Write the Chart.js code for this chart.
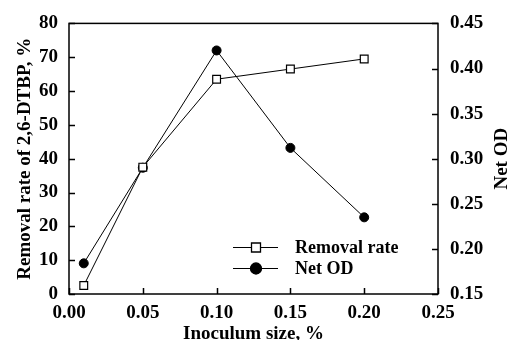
<!DOCTYPE html>
<html>
<head>
<meta charset="utf-8">
<script src="https://cdn.jsdelivr.net/npm/chart.js@4/dist/chart.umd.min.js"></script>
<style>
  html, body { margin: 0; padding: 0; background: #fff; }
  #wrap { width: 512px; height: 340px; }
</style>
</head>
<body>
<div id="wrap"><canvas id="c" width="512" height="340"></canvas></div>
<script>
const inoculum = [0.01, 0.05, 0.10, 0.15, 0.20];
const removalRate = [2.5, 37.5, 63.5, 66.5, 69.5];
const netOD = [0.184, 0.290, 0.420, 0.312, 0.235];
const xTicks = [0, 0.05, 0.10, 0.15, 0.20, 0.25];
const leftTicks = [0, 10, 20, 30, 40, 50, 60, 70, 80];
const rightTicks = [0.15, 0.20, 0.25, 0.30, 0.35, 0.40, 0.45];

const serif = "'Liberation Serif', 'DejaVu Serif', serif";
const tickFont = { family: serif, size: 19, weight: 'bold' };
const titleFont = { family: serif, size: 19, weight: 'bold', lineHeight: 0.6 };

// box, inward ticks, right title, legend with line-marker-line
const framePlugin = {
    id: 'frame',
    afterDraw(chart) {
        const ctx = chart.ctx;
        const a = chart.chartArea;
        const x = chart.scales.x, yl = chart.scales.y, yr = chart.scales.y2;
        ctx.save();
        ctx.strokeStyle = '#000';
        ctx.lineWidth = 1.5;
        ctx.strokeRect(a.left, a.top, a.right - a.left, a.bottom - a.top);
        ctx.beginPath();
        xTicks.forEach(v => {
            const px = Math.round(x.getPixelForValue(v)) + 0.5;
            ctx.moveTo(px, a.bottom); ctx.lineTo(px, a.bottom - 6);
        });
        leftTicks.forEach(v => {
            const py = Math.round(yl.getPixelForValue(v)) + 0.5;
            ctx.moveTo(a.left, py); ctx.lineTo(a.left + 6, py);
        });
        rightTicks.forEach(v => {
            const py = Math.round(yr.getPixelForValue(v)) + 0.5;
            ctx.moveTo(a.right, py); ctx.lineTo(a.right - 6, py);
        });
        ctx.stroke();

        // right axis title, reading bottom to top
        ctx.fillStyle = '#000';
        ctx.font = 'bold 19px ' + serif;
        ctx.textAlign = 'center';
        ctx.textBaseline = 'middle';
        ctx.translate(502, (a.top + a.bottom) / 2);
        ctx.rotate(-Math.PI / 2);
        ctx.fillText('Net OD', 0, 0);
        ctx.restore();

        // legend
        ctx.save();
        const items = [
            { label: 'Removal rate', style: 'rect', y: 247 },
            { label: 'Net OD', style: 'circle', y: 268 }
        ];
        items.forEach(it => {
            ctx.strokeStyle = '#000';
            ctx.lineWidth = 1;
            ctx.beginPath();
            ctx.moveTo(233, it.y + 0.5); ctx.lineTo(278, it.y + 0.5);
            ctx.stroke();
            ctx.lineWidth = 1.3;
            ctx.fillStyle = it.style === 'rect' ? '#fff' : '#000';
            ctx.beginPath();
            if (it.style === 'rect') {
                ctx.rect(251.5, it.y - 4, 9, 9);
            } else {
                ctx.arc(256, it.y + 0.5, 5.5, 0, Math.PI * 2);
            }
            ctx.fill();
            ctx.stroke();
            ctx.fillStyle = '#000';
            ctx.font = 'bold 18px ' + serif;
            ctx.textAlign = 'left';
            ctx.textBaseline = 'middle';
            ctx.fillText(it.label, 295, it.y + 1);
        });
        ctx.restore();
    }
};

new Chart(document.getElementById('c'), {
    type: 'line',
    data: {
        datasets: [
            {
                label: 'Removal rate',
                data: inoculum.map((v, i) => ({ x: v, y: removalRate[i] })),
                yAxisID: 'y',
                borderColor: '#000',
                borderWidth: 1,
                pointStyle: 'rect',
                pointRadius: 5.5,
                pointBackgroundColor: '#fff',
                pointBorderColor: '#000',
                pointBorderWidth: 1.2,
                tension: 0
            },
            {
                label: 'Net OD',
                data: inoculum.map((v, i) => ({ x: v, y: netOD[i] })),
                yAxisID: 'y2',
                borderColor: '#000',
                borderWidth: 1,
                pointStyle: 'circle',
                pointRadius: 4.5,
                pointBackgroundColor: '#000',
                pointBorderColor: '#000',
                tension: 0
            }
        ]
    },
    options: {
        responsive: false,
        animation: false,
        layout: { padding: { top: 22, left: 0, right: 0, bottom: 0 } },
        plugins: { legend: { display: false }, tooltip: { enabled: false } },
        scales: {
            x: {
                type: 'linear',
                min: 0, max: 0.25,
                afterFit(s) { s.height = 46; },
                afterBuildTicks(s) { s.ticks = xTicks.map(v => ({ value: v })); },
                grid: { display: false, drawTicks: false },
                border: { display: false },
                ticks: {
                    color: '#000', font: tickFont, padding: 8, maxRotation: 0,
                    callback: v => v.toFixed(2)
                },
                title: {
                    display: true, text: 'Inoculum size, %', color: '#000',
                    font: titleFont, padding: { top: 0, bottom: 0 }
                }
            },
            y: {
                position: 'left',
                min: 0, max: 80,
                afterFit(s) { s.width = 69; },
                afterBuildTicks(s) { s.ticks = leftTicks.map(v => ({ value: v })); },
                grid: { display: false, drawTicks: false },
                border: { display: false },
                ticks: { color: '#000', font: tickFont, padding: 11 },
                title: {
                    display: true, text: 'Removal rate of 2,6-DTBP, %', color: '#000',
                    font: { family: serif, size: 19, weight: 'bold' }, padding: { top: 14, bottom: 0 }
                }
            },
            y2: {
                position: 'right',
                min: 0.15, max: 0.45,
                afterFit(s) { s.width = 74; },
                afterBuildTicks(s) { s.ticks = rightTicks.map(v => ({ value: v })); },
                grid: { display: false, drawTicks: false },
                border: { display: false },
                ticks: {
                    color: '#000', font: tickFont, padding: 12,
                    callback: v => v.toFixed(2)
                }
            }
        }
    },
    plugins: [framePlugin]
});
</script>
</body>
</html>
